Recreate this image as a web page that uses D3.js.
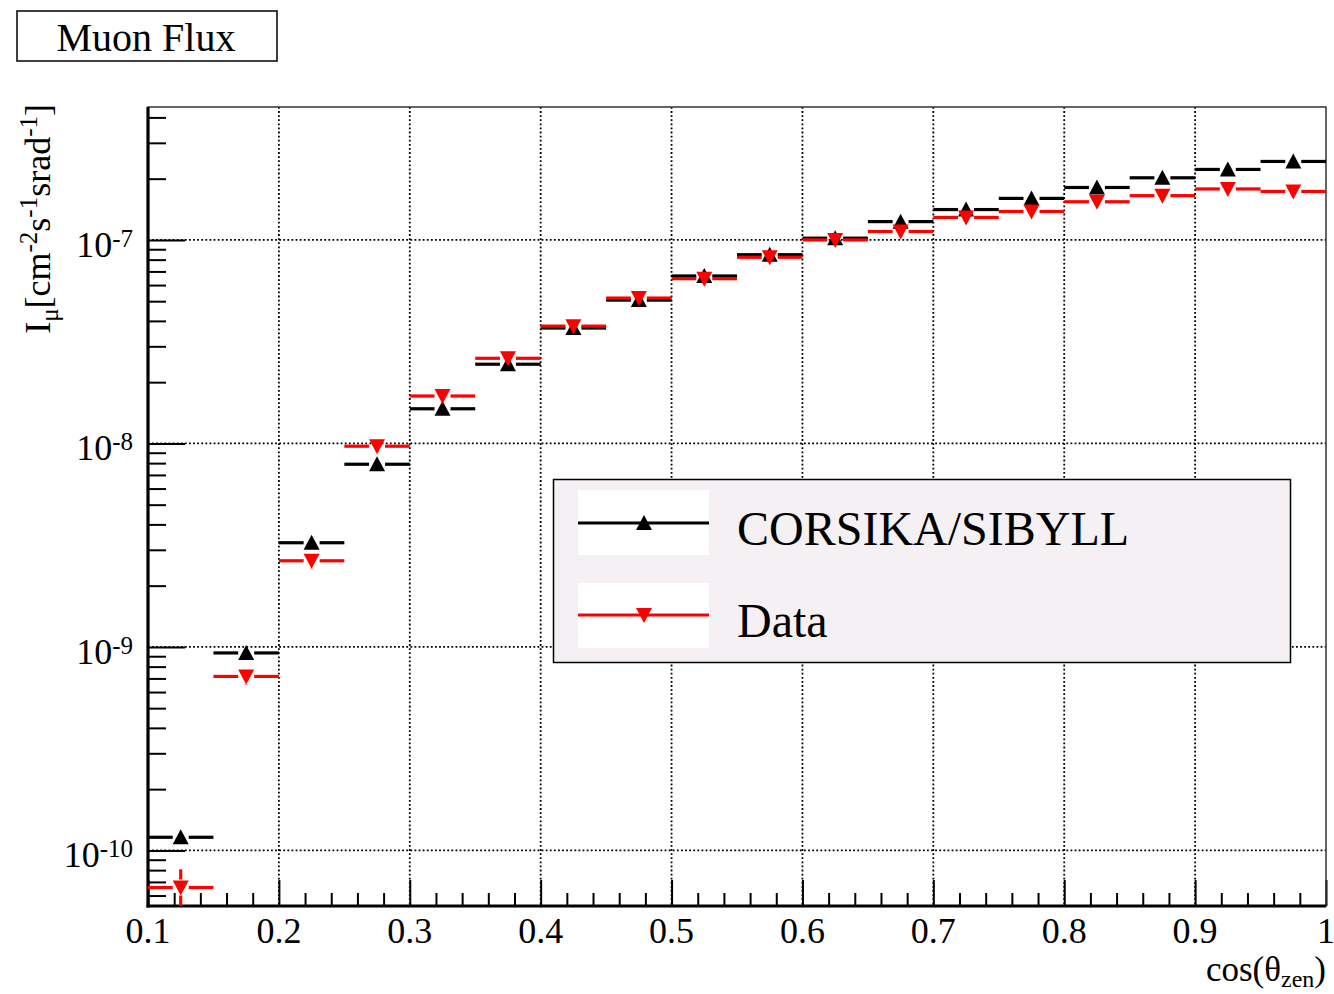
<!DOCTYPE html>
<html>
<head>
<meta charset="utf-8">
<script src="https://cdn.jsdelivr.net/npm/d3@7"></script>
<style>
  body { margin: 0; background: #fff; }
  svg { display: block; }
  text { font-family: "Liberation Serif", "Times New Roman", serif; fill: #000; }
</style>
</head>
<body>
<svg id="chart" width="1334" height="994"></svg>
<script>
// cos(theta_zen) bins
const binLow  = [0.10, 0.15, 0.20, 0.25, 0.30, 0.35, 0.40, 0.45, 0.50, 0.55, 0.60, 0.65, 0.70, 0.75, 0.80, 0.85, 0.90, 0.95];
const binHigh = [0.15, 0.20, 0.25, 0.30, 0.35, 0.40, 0.45, 0.50, 0.55, 0.60, 0.65, 0.70, 0.75, 0.80, 0.85, 0.90, 0.95, 1.00];

// Muon flux, cm^-2 s^-1 sr^-1
const corsikaFlux = [1.16e-10, 9.34e-10, 3.25e-9, 7.90e-9, 1.48e-8, 2.45e-8, 3.69e-8, 5.06e-8, 6.65e-8,
                     8.46e-8, 1.02e-7, 1.23e-7, 1.41e-7, 1.60e-7, 1.81e-7, 2.02e-7, 2.22e-7, 2.43e-7];
const dataFlux    = [6.57e-11, 7.16e-10, 2.65e-9, 9.69e-9, 1.71e-8, 2.62e-8, 3.77e-8, 5.18e-8, 6.45e-8,
                     8.22e-8, 1.00e-7, 1.10e-7, 1.29e-7, 1.38e-7, 1.54e-7, 1.65e-7, 1.78e-7, 1.73e-7];
const dataErr     = [1.5e-11, 6.5e-11, 2.4e-10, 8.5e-10, 1.5e-9, 2.3e-9, 3.3e-9, 4.5e-9, 5.6e-9,
                     7.1e-9, 8.7e-9, 9.5e-9, 1.1e-8, 1.2e-8, 1.3e-8, 1.4e-8, 1.5e-8, 1.5e-8];

const xTickValues = [0.1, 0.2, 0.3, 0.4, 0.5, 0.6, 0.7, 0.8, 0.9, 1.0];
const xTickLabels = ["0.1", "0.2", "0.3", "0.4", "0.5", "0.6", "0.7", "0.8", "0.9", "1"];
const xMinorValues = [0.12, 0.14, 0.16, 0.18, 0.22, 0.24, 0.26, 0.28, 0.32, 0.34, 0.36, 0.38, 0.42, 0.44, 0.46, 0.48,
                      0.52, 0.54, 0.56, 0.58, 0.62, 0.64, 0.66, 0.68, 0.72, 0.74, 0.76, 0.78, 0.82, 0.84, 0.86, 0.88,
                      0.92, 0.94, 0.96, 0.98];
const yDecadeExponents = [-10, -9, -8, -7];
const seriesNames = ["CORSIKA/SIBYLL", "Data"];
const seriesColors = ["#000000", "#ff0000"];

const svg = d3.select("#chart");
const plot = { left: 148, right: 1326, top: 107, bottom: 906 };

const x = d3.scaleLinear().domain([0.1, 1.0]).range([plot.left, plot.right]);
const y = d3.scaleLog().domain([5.33e-11, 4.50e-7]).range([plot.bottom, plot.top]);

const decades = yDecadeExponents.map(e => Math.pow(10, e));
const yMinor = [];
for (let e = -11; e <= -7; e++) {
  for (let k = 2; k <= 9; k++) {
    const v = k * Math.pow(10, e);
    if (v >= y.domain()[0] && v <= y.domain()[1]) yMinor.push(v);
  }
}

// dotted grid at the major ticks
const grid = svg.append("g").attr("stroke", "#000").attr("stroke-width", 1.8)
  .attr("stroke-dasharray", "1.8,2.3");
grid.selectAll("line.gx").data(xTickValues.filter(v => v > 0.1 && v < 1.0)).join("line")
  .attr("x1", d => x(d)).attr("x2", d => x(d))
  .attr("y1", plot.top).attr("y2", plot.bottom);
grid.selectAll("line.gy").data(decades).join("line")
  .attr("y1", d => y(d)).attr("y2", d => y(d))
  .attr("x1", plot.left).attr("x2", plot.right);

// axes
function styleAxis(g) {
  g.select(".domain").remove();
  g.selectAll(".tick line").attr("stroke", "#000").attr("stroke-width", 2);
  g.selectAll(".tick text").remove();
}
svg.append("g").attr("transform", `translate(0,${plot.bottom})`)
  .call(d3.axisBottom(x).tickValues(xTickValues).tickSize(-26)).call(styleAxis);
svg.append("g").attr("transform", `translate(0,${plot.bottom})`)
  .call(d3.axisBottom(x).tickValues(xMinorValues).tickSize(-13)).call(styleAxis);
svg.append("g").attr("transform", `translate(${plot.left},0)`)
  .call(d3.axisLeft(y).tickValues(decades).tickSize(-37)).call(styleAxis);
svg.append("g").attr("transform", `translate(${plot.left},0)`)
  .call(d3.axisLeft(y).tickValues(yMinor).tickSize(-18)).call(styleAxis);

// frame
svg.append("rect").attr("x", plot.left).attr("y", plot.top)
  .attr("width", plot.right - plot.left).attr("height", plot.bottom - plot.top)
  .attr("fill", "none").attr("stroke", "#333").attr("stroke-width", 1.5);
svg.append("line").attr("x1", plot.left).attr("x2", plot.left).attr("y1", plot.top).attr("y2", plot.bottom + 1.5)
  .attr("stroke", "#000").attr("stroke-width", 3.2);
svg.append("line").attr("x1", plot.left - 1.5).attr("x2", plot.right).attr("y1", plot.bottom).attr("y2", plot.bottom)
  .attr("stroke", "#000").attr("stroke-width", 3.2);

// tick labels
svg.append("g").selectAll("text").data(xTickValues).join("text")
  .attr("x", d => x(d)).attr("y", 943).attr("text-anchor", "middle")
  .attr("font-size", 36).text((d, i) => xTickLabels[i]);

const yl = svg.append("g").selectAll("text").data(yDecadeExponents).join("text")
  .attr("x", 133).attr("y", d => y(Math.pow(10, d)) + 17).attr("text-anchor", "end")
  .attr("font-size", 36);
yl.append("tspan").text("10");
yl.append("tspan").attr("font-size", 25).attr("dy", -10).text(d => String(d));

// axis titles
const xt = svg.append("text").attr("x", 1326).attr("y", 981).attr("text-anchor", "end").attr("font-size", 35);
xt.append("tspan").text("cos(\u03b8");
xt.append("tspan").attr("font-size", 24).attr("dy", 6).text("zen");
xt.append("tspan").attr("dy", -6).text(")");

const yt = svg.append("text").attr("transform", "translate(50,104) rotate(-90)")
  .attr("text-anchor", "end").attr("font-size", 36);
yt.append("tspan").text("I");
yt.append("tspan").attr("font-size", 25).attr("dy", 8).text("\u03bc");
yt.append("tspan").attr("dy", -8).text("[cm");
yt.append("tspan").attr("font-size", 25).attr("dy", -13).text("-2");
yt.append("tspan").attr("dy", 13).text("s");
yt.append("tspan").attr("font-size", 25).attr("dy", -13).text("-1");
yt.append("tspan").attr("dy", 13).text("srad");
yt.append("tspan").attr("font-size", 25).attr("dy", -13).text("-1");
yt.append("tspan").attr("dy", 13).text("]");

// markers (triangle up / triangle down)
const half = 8;
const upTri = "M-8,7L8,7L0,-8Z";
const downTri = "M-8,-7L8,-7L0,8Z";

function drawSeries(values, errs, color, markerPath) {
  const g = svg.append("g");
  const pts = values.map((v, i) => ({ lo: binLow[i], hi: binHigh[i], v, e: errs ? errs[i] : 0 }));
  const segs = [];
  pts.forEach(p => {
    const cx = x((p.lo + p.hi) / 2), cy = y(p.v);
    segs.push([x(p.lo), cy, cx - half, cy]);
    segs.push([cx + half, cy, x(p.hi), cy]);
    if (p.e > 0) {
      const yu = y(p.v + p.e);
      const yd = p.v - p.e > y.domain()[0] ? y(p.v - p.e) : plot.bottom;
      if (yu < cy - half) segs.push([cx, cy - half, cx, yu]);
      if (yd > cy + half) segs.push([cx, cy + half, cx, yd]);
    }
  });
  g.selectAll("line").data(segs).join("line")
    .attr("x1", d => d[0]).attr("y1", d => d[1]).attr("x2", d => d[2]).attr("y2", d => d[3])
    .attr("stroke", color).attr("stroke-width", 3.2);
  g.selectAll("path").data(pts).join("path")
    .attr("d", markerPath).attr("fill", color)
    .attr("transform", p => `translate(${x((p.lo + p.hi) / 2)},${y(p.v)})`);
}
drawSeries(corsikaFlux, null, seriesColors[0], upTri);
drawSeries(dataFlux, dataErr, seriesColors[1], downTri);

// legend
const lg = svg.append("g");
lg.append("rect").attr("x", 553.5).attr("y", 479.5).attr("width", 737).attr("height", 183)
  .attr("fill", "#f4f0f4").attr("stroke", "#000").attr("stroke-width", 1.5);
const legendRows = [0, 1];
const rowTop = [490, 583];
const rowMid = [523, 615];
legendRows.forEach(i => {
  lg.append("rect").attr("x", 578).attr("y", rowTop[i]).attr("width", 131).attr("height", 65).attr("fill", "#fff");
  lg.append("line").attr("x1", 578).attr("x2", 709).attr("y1", rowMid[i]).attr("y2", rowMid[i])
    .attr("stroke", seriesColors[i]).attr("stroke-width", 3.2);
  lg.append("path").attr("d", i === 0 ? upTri : downTri).attr("fill", seriesColors[i])
    .attr("transform", `translate(644,${rowMid[i]})`);
  lg.append("text").attr("x", 737).attr("y", rowMid[i] + 22).attr("font-size", 48).text(seriesNames[i]);
});

// title box
svg.append("rect").attr("x", 17).attr("y", 11).attr("width", 260).attr("height", 50)
  .attr("fill", "#fff").attr("stroke", "#000").attr("stroke-width", 1.5);
svg.append("text").attr("x", 146).attr("y", 51).attr("text-anchor", "middle").attr("font-size", 40).text("Muon Flux");
</script>
</body>
</html>
